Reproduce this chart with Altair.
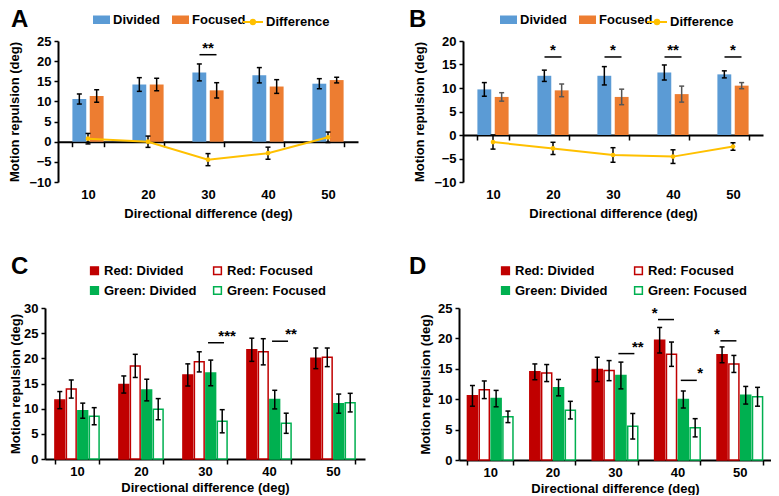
import altair as alt
import pandas as pd

FONT = "Liberation Sans"
BLUE = "#5B9BD5"
ORANGE = "#ED7D31"
YELLOW = "#FFC000"
RED = "#C00000"
GREEN = "#00B050"

cats = ["10", "20", "30", "40", "50"]

# ---- Panel A ----
a_div = [10.6, 14.2, 17.2, 16.5, 14.4]
a_div_err = [1.25, 1.7, 2.1, 1.9, 1.25]
a_foc = [11.35, 14.2, 12.75, 13.7, 15.3]
a_foc_err = [1.55, 1.55, 1.9, 1.7, 0.7]
a_diff = [0.75, 0.0, -4.45, -2.85, 1.1]
a_diff_err = [1.3, 1.4, 1.5, 1.5, 1.3]
a_sig_cat = ["30"]
a_sig_y = [21.6]
a_sig_label = ["**"]

# ---- Panel B ----
b_div = [9.7, 12.6, 12.6, 13.3, 12.9]
b_div_err = [1.45, 1.2, 1.95, 1.6, 0.75]
b_foc = [8.1, 9.5, 8.1, 8.7, 10.5]
b_foc_err = [0.9, 1.35, 1.65, 1.7, 0.65]
b_diff = [-1.5, -2.85, -4.25, -4.6, -2.45]
b_diff_err = [1.5, 1.3, 1.55, 1.45, 0.8]
b_sig_cat = ["20", "30", "40", "50"]
b_sig_y = [16.6, 16.6, 16.6, 16.6]
b_sig_label = ["*", "*", "**", "*"]

# ---- Panel C ----
c_rd = [11.7, 14.8, 16.7, 21.7, 20.0]
c_rd_err = [1.7, 1.7, 2.2, 2.3, 2.05]
c_rf = [13.9, 18.5, 19.3, 21.3, 20.2]
c_rf_err = [1.8, 2.3, 2.0, 2.6, 1.85]
c_gd = [9.6, 13.7, 17.1, 11.8, 11.0]
c_gd_err = [1.5, 2.15, 2.55, 1.85, 1.9]
c_gf = [8.5, 9.9, 7.5, 7.1, 11.2]
c_gf_err = [1.7, 2.1, 2.3, 2.0, 1.85]
c_sig_cat = ["30", "40"]
c_sig_pair = ["Green", "Green"]
c_sig_y = [23.1, 23.4]
c_sig_label = ["***", "**"]

# ---- Panel D ----
d_rd = [10.55, 14.5, 14.9, 19.7, 17.3]
d_rd_err = [1.7, 1.3, 2.0, 2.1, 1.3]
d_rf = [11.55, 14.3, 14.7, 17.4, 15.8]
d_rf_err = [1.45, 1.4, 1.65, 2.0, 1.4]
d_gd = [10.1, 11.9, 13.9, 9.95, 10.65]
d_gd_err = [1.35, 1.35, 2.2, 1.4, 1.45]
d_gf = [7.1, 8.2, 5.55, 5.3, 10.4]
d_gf_err = [0.95, 1.45, 2.1, 1.5, 1.55]
d_sig_cat = ["30", "40", "40", "50"]
d_sig_pair = ["Green", "Red", "Green", "Red"]
d_sig_y = [17.5, 23.1, 13.1, 19.6]
d_sig_label = ["**", "*", "*", "*"]

X_TITLE = "Directional difference (deg)"
Y_TITLE = "Motion repulsion (deg)"
RECT_PATH = "M-1,-0.5H1V0.5H-1Z"
DIFF_PATH = "M-1,0H1M-0.22,0A0.22,0.22,0,1,1,0.22,0A0.22,0.22,0,1,1,-0.22,0"

INDEP = dict(x="independent", y="independent", xOffset="independent",
             fill="independent", stroke="independent", color="independent")


def legend_common(**kw):
    base = dict(orient="none", title=None, labelFont=FONT, labelFontSize=13,
                labelFontWeight="bold", labelColor="black", labelLimit=300)
    base.update(kw)
    return alt.Legend(**base)


def letter_title(letter, dx, offset):
    return alt.TitleParams(text=letter, anchor="start", frame="group", dx=dx, offset=offset,
                           font=FONT, fontSize=24, fontWeight="bold", color="black")


def panel_ab(div, div_err, foc, foc_err, diff, diff_err, sig_cat, sig_y, sig_label,
             ymin, ymax, letter, width, height, shift, leg_x, diff_leg_x, title_dx, title_off,
             err_colors):
    bars = pd.DataFrame({
        "cat": cats * 2,
        "series": ["Divided"] * 5 + ["Focused"] * 5,
        "value": div + foc,
        "err": div_err + foc_err,
    })
    bars["lo"] = bars["value"] - bars["err"]
    bars["hi"] = bars["value"] + bars["err"]
    dd = pd.DataFrame({"cat": cats, "s": ["Difference"] * 5, "value": diff, "err": diff_err})
    dd["lo"] = dd["value"] - dd["err"]
    dd["hi"] = dd["value"] + dd["err"]
    sig = pd.DataFrame({"cat": sig_cat, "y": sig_y, "label": sig_label})

    zero_px = height * (0 - ymin) / (ymax - ymin)
    xscale = alt.Scale(domain=cats, paddingInner=0.48, paddingOuter=0.24,
                       range=[shift, shift + width])
    yscale = alt.Scale(domain=[ymin, ymax], nice=False, zero=False)
    xoff_scale = alt.Scale(domain=["Divided", "Focused"], paddingInner=0.2, paddingOuter=0)
    xaxis = alt.Axis(title=X_TITLE, offset=-zero_px, labelPadding=zero_px + 1,
                     tickBand="extent", tickSize=5, labelAngle=0, titlePadding=6)
    yaxis = alt.Axis(title=Y_TITLE, values=list(range(ymin, ymax + 1, 5)), tickSize=4,
                     labelPadding=3, titlePadding=7, offset=-shift)

    X = alt.X("cat:N", scale=xscale, axis=xaxis, title=X_TITLE)

    def Y(field):
        return alt.Y(field, scale=yscale, axis=yaxis, title=Y_TITLE)

    xo = alt.XOffset("series:N", scale=xoff_scale)
    ecol = alt.Color("series:N", scale=alt.Scale(domain=["Divided", "Focused"], range=err_colors),
                     legend=None)

    bar = alt.Chart(bars).mark_bar().encode(
        x=X, xOffset=xo, y=Y("value:Q"),
        fill=alt.Fill("series:N", scale=alt.Scale(domain=["Divided", "Focused"], range=[BLUE, ORANGE]),
                      legend=legend_common(legendX=leg_x, legendY=-30, direction="horizontal",
                                           symbolType=RECT_PATH, symbolSize=289, symbolStrokeWidth=0,
                                           labelOffset=3, columnPadding=12)),
    )
    err = alt.Chart(bars).mark_rule(strokeWidth=1.5).encode(
        x=X, xOffset=xo, y=Y("lo:Q"), y2="hi:Q", color=ecol)
    cap_lo = alt.Chart(bars).mark_tick(thickness=1.5, size=5, opacity=1).encode(
        x=X, xOffset=xo, y=Y("lo:Q"), color=ecol)
    cap_hi = alt.Chart(bars).mark_tick(thickness=1.5, size=5, opacity=1).encode(
        x=X, xOffset=xo, y=Y("hi:Q"), color=ecol)

    line = alt.Chart(dd).mark_line(strokeWidth=2).encode(
        x=X, y=Y("value:Q"),
        stroke=alt.Stroke("s:N", scale=alt.Scale(domain=["Difference"], range=[YELLOW]),
                          legend=legend_common(legendX=diff_leg_x, legendY=-30,
                                               symbolType=DIFF_PATH, symbolSize=400,
                                               symbolStrokeWidth=2, symbolFillColor=YELLOW,
                                               symbolStrokeColor=YELLOW, labelOffset=2)))
    pts = alt.Chart(dd).mark_point(filled=True, color=YELLOW, size=22, opacity=1).encode(
        x=X, y=Y("value:Q"))
    derr = alt.Chart(dd).mark_rule(color="black", strokeWidth=1.5).encode(
        x=X, y=Y("lo:Q"), y2="hi:Q")
    dcap_lo = alt.Chart(dd).mark_tick(color="black", thickness=1.5, size=5, opacity=1).encode(
        x=X, y=Y("lo:Q"))
    dcap_hi = alt.Chart(dd).mark_tick(color="black", thickness=1.5, size=5, opacity=1).encode(
        x=X, y=Y("hi:Q"))

    sig_line = alt.Chart(sig).mark_tick(color="black", thickness=1.5, size=17, opacity=1).encode(
        x=X, y=Y("y:Q"))
    sig_text = alt.Chart(sig).mark_text(font=FONT, fontSize=15, fontWeight="bold",
                                        baseline="alphabetic", dy=-2, color="black").encode(
        x=X, y=Y("y:Q"), text="label:N")

    return alt.layer(bar, err, cap_lo, cap_hi, line, derr, dcap_lo, dcap_hi, pts,
                     sig_line, sig_text).properties(
        width=width + shift, height=height, title=letter_title(letter, title_dx, title_off))


CD_SERIES = ["Red: Divided", "Red: Focused", "Green: Divided", "Green: Focused"]
CD_LEGEND_ORDER = ["Red: Divided", "Green: Divided", "Red: Focused", "Green: Focused"]
CD_FILL = [RED, GREEN, "white", "white"]
CD_STROKE = [RED, GREEN, RED, GREEN]


def panel_cd(rd, rd_err, rf, rf_err, gd, gd_err, gf, gf_err, sig_cat, sig_pair, sig_y, sig_label,
             ymax, letter, width, height, xpad, leg_x, leg_y, col_pad, title_dx, y_title_pad):
    bars = pd.DataFrame({
        "cat": cats * 4,
        "series": sum([[s] * 5 for s in CD_SERIES], []),
        "value": rd + rf + gd + gf,
        "err": rd_err + rf_err + gd_err + gf_err,
    })
    bars["lo"] = bars["value"] - bars["err"]
    bars["hi"] = bars["value"] + bars["err"]
    sig = pd.DataFrame({"cat": sig_cat, "pair": sig_pair, "y": sig_y, "label": sig_label})

    xscale = alt.Scale(domain=cats, paddingInner=xpad, paddingOuter=xpad / 2)
    yscale = alt.Scale(domain=[0, ymax], nice=False)
    xoff_scale = alt.Scale(domain=CD_SERIES, paddingInner=0.15, paddingOuter=0)
    pair_scale = alt.Scale(domain=["Red", "Green"], paddingInner=0, paddingOuter=0)
    xaxis = alt.Axis(title=X_TITLE, tickBand="extent", tickSize=5, labelAngle=0,
                     labelPadding=1, titlePadding=3)
    yaxis = alt.Axis(title=Y_TITLE, values=list(range(0, ymax + 1, 5)), tickSize=4,
                     labelPadding=3, titlePadding=y_title_pad)
    X = alt.X("cat:N", scale=xscale, axis=xaxis, title=X_TITLE)

    def Y(field):
        return alt.Y(field, scale=yscale, axis=yaxis, title=Y_TITLE)

    xo = alt.XOffset("series:N", scale=xoff_scale)
    xp = alt.XOffset("pair:N", scale=pair_scale)

    leg = dict(legendX=leg_x, legendY=leg_y, columns=2, columnPadding=col_pad, rowPadding=5,
               symbolType="square", symbolSize=60, symbolStrokeWidth=1.5, labelOffset=3)
    bar = alt.Chart(bars).mark_bar(strokeWidth=1.5).encode(
        x=X, xOffset=xo, y=Y("value:Q"),
        fill=alt.Fill("series:N", scale=alt.Scale(domain=CD_LEGEND_ORDER, range=CD_FILL),
                      legend=legend_common(**leg)),
        stroke=alt.Stroke("series:N", scale=alt.Scale(domain=CD_LEGEND_ORDER, range=CD_STROKE),
                          legend=legend_common(**leg)),
    )
    err = alt.Chart(bars).mark_rule(color="black", strokeWidth=1.5).encode(
        x=X, xOffset=xo, y=Y("lo:Q"), y2="hi:Q")
    cap_lo = alt.Chart(bars).mark_tick(color="black", thickness=1.5, size=5, opacity=1).encode(
        x=X, xOffset=xo, y=Y("lo:Q"))
    cap_hi = alt.Chart(bars).mark_tick(color="black", thickness=1.5, size=5, opacity=1).encode(
        x=X, xOffset=xo, y=Y("hi:Q"))
    sig_line = alt.Chart(sig).mark_tick(color="black", thickness=1.5, size=16, opacity=1).encode(
        x=X, xOffset=xp, y=Y("y:Q"))
    sig_text = alt.Chart(sig).mark_text(font=FONT, fontSize=15, fontWeight="bold",
                                        baseline="alphabetic", dy=-2, color="black").encode(
        x=X, xOffset=xp, y=Y("y:Q"), text="label:N")

    return alt.layer(bar, err, cap_lo, cap_hi, sig_line, sig_text).resolve_scale(
        xOffset="independent").properties(
        width=width, height=height, title=letter_title(letter, title_dx, -15))


pA = panel_ab(a_div, a_div_err, a_foc, a_foc_err, a_diff, a_diff_err, a_sig_cat, a_sig_y, a_sig_label,
              -10, 25, "A", 300, 141, 13, 48, 197, -34, -21, ["black", "black"])
pB = panel_ab(b_div, b_div_err, b_foc, b_foc_err, b_diff, b_diff_err, b_sig_cat, b_sig_y, b_sig_label,
              -10, 20, "B", 300, 141, 0, 37, 183, -54, -21, ["black", "#555555"])
pC = panel_cd(c_rd, c_rd_err, c_rf, c_rf_err, c_gd, c_gd_err, c_gf, c_gf_err,
              c_sig_cat, c_sig_pair, c_sig_y, c_sig_label, 30, "C", 320, 151, 0.31, 43, -44, 13, -34, 1)
pD = panel_cd(d_rd, d_rd_err, d_rf, d_rf_err, d_gd, d_gd_err, d_gf, d_gf_err,
              d_sig_cat, d_sig_pair, d_sig_y, d_sig_label, 25, "D", 312, 152, 0.27, 40, -44, 23, -50, 5)

chart = alt.concat(
    pA, pB, pC, pD, columns=2, align="none",
    spacing={"row": 35, "column": 44},
).resolve_scale(**INDEP).properties(padding=0).configure_axis(
    labelFont=FONT, labelFontSize=13, labelFontWeight="bold", labelColor="black",
    titleFont=FONT, titleFontSize=13, titleFontWeight="bold", titleColor="black",
    domainColor="black", domainWidth=2, tickColor="black", tickWidth=1.5, grid=False,
).configure_view(stroke=None)

chart.save("out.html", embed_options={"renderer": "svg", "actions": False})
